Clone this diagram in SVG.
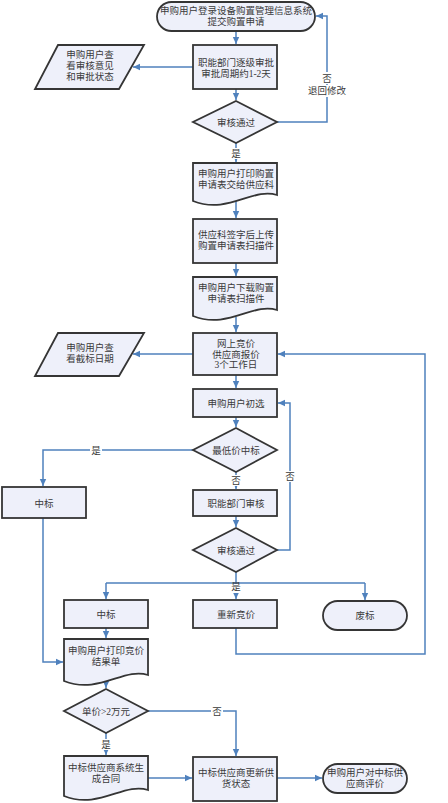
<svg xmlns="http://www.w3.org/2000/svg" width="448" height="803" viewBox="0 0 448 803">
<style>
.n{fill:#eef0fa;stroke:#353535;stroke-width:1.8}
.t{font-family:"Liberation Serif","Noto Sans CJK SC",serif;font-size:9.5px;fill:#3a3a3a;text-anchor:middle}
.c{fill:none;stroke:#4f81bd;stroke-width:1.5}
.a{marker-end:url(#ar)}
.lb{fill:#fff}
</style>
<defs>
<marker id="ar" markerUnits="userSpaceOnUse" markerWidth="8" markerHeight="8" refX="7" refY="4" orient="auto">
<path d="M0,0.8 L7,4 L0,7.2 Z" fill="#4f81bd"/>
</marker>
</defs>
<rect width="448" height="803" fill="#fff"/>
<g id="connectors">
<path class="c a" d="M236,31 V44"/>
<path class="c a" d="M193,67 H133"/>
<path class="c a" d="M236,89 V100"/>
<path class="c a" d="M277,122 H327 V16 H316"/>
<path class="c a" d="M236,143 V162"/>
<path class="c a" d="M236,200 V218"/>
<path class="c a" d="M236,263 V276"/>
<path class="c a" d="M236,317 V332"/>
<path class="c a" d="M193,354 H133"/>
<path class="c a" d="M236,375 V388"/>
<path class="c a" d="M236,417 V427"/>
<path class="c a" d="M193,450 H43 V486"/>
<path class="c a" d="M236,472 V489"/>
<path class="c a" d="M236,516 V527"/>
<path class="c a" d="M277,550 H290 V403 H278"/>
<path class="c" d="M236,572 V583 M106,583 H365"/>
<path class="c a" d="M106,583 V599"/>
<path class="c a" d="M236,583 V599"/>
<path class="c a" d="M365,583 V600"/>
<path class="c a" d="M106,628 V638"/>
<path class="c a" d="M236,628 V654 H425 V354 H278"/>
<path class="c a" d="M43,518 V662 H63"/>
<path class="c a" d="M106,682 V688"/>
<path class="c a" d="M148,711 H236 V756"/>
<path class="c a" d="M106,733 V755"/>
<path class="c a" d="M148,778 H192"/>
<path class="c a" d="M277,778 H322"/>
<rect class="lb" x="320" y="72" width="14" height="12"/>
<rect class="lb" x="307" y="85" width="40" height="12"/>
<text class="t" x="327" y="82">否</text>
<text class="t" x="327" y="93.5">退回修改</text>
<rect class="lb" x="230" y="148" width="12" height="11"/>
<text class="t" x="236" y="157">是</text>
<rect class="lb" x="90" y="445" width="12" height="11"/>
<text class="t" x="96" y="454">是</text>
<rect class="lb" x="230" y="475" width="12" height="11"/>
<text class="t" x="236" y="484">否</text>
<rect class="lb" x="284" y="471" width="12" height="11"/>
<text class="t" x="290" y="480">否</text>
<rect class="lb" x="230" y="584" width="12" height="9"/>
<text class="t" x="236" y="590">是</text>
<rect class="lb" x="211" y="706" width="12" height="11"/>
<text class="t" x="217" y="715">否</text>
<rect class="lb" x="100" y="739" width="12" height="11"/>
<text class="t" x="106" y="748">是</text>
</g>
<g id="start">
<rect class="n" x="157" y="2" width="158" height="29" rx="14.5"/>
<text class="t" x="236" y="14">申购用户登录设备购置管理信息系统</text>
<text class="t" x="236" y="25">提交购置申请</text>
</g>
<g id="approve">
<rect class="n" x="193" y="45" width="84" height="44"/>
<text class="t" x="236" y="66">职能部门逐级审批</text>
<text class="t" x="236" y="77">审批周期约1-2天</text>
</g>
<g id="view1">
<polygon class="n" points="58,45 144,45 119,89 35,89"/>
<text class="t" x="90" y="58">申购用户查</text>
<text class="t" x="90" y="69">看审核意见</text>
<text class="t" x="90" y="80">和审批状态</text>
</g>
<g id="check1">
<polygon class="n" points="236,101 277,122 236,143 193,122"/>
<text class="t" x="236" y="125.5">审核通过</text>
</g>
<g id="print1">
<path class="n" d="M193,163 H277 V195 C253,187 228,215 193,201 Z"/>
<text class="t" x="236" y="177">申购用户打印购置</text>
<text class="t" x="236" y="188">申请表交给供应科</text>
</g>
<g id="upload">
<rect class="n" x="193" y="219" width="84" height="44"/>
<text class="t" x="236" y="237.5">供应科签字后上传</text>
<text class="t" x="236" y="248.5">购置申请表扫描件</text>
</g>
<g id="download">
<path class="n" d="M193,277 H277 V310 C253,302 228,330 193,316 Z"/>
<text class="t" x="236" y="291">申购用户下载购置</text>
<text class="t" x="236" y="302">申请表扫描件</text>
</g>
<g id="bidding">
<rect class="n" x="193" y="333" width="84" height="42"/>
<text class="t" x="236" y="347">网上竞价</text>
<text class="t" x="236" y="357.6">供应商报价</text>
<text class="t" x="236" y="368.2">3个工作日</text>
</g>
<g id="view2">
<polygon class="n" points="58,333 144,333 119,376 35,376"/>
<text class="t" x="90" y="351">申购用户查</text>
<text class="t" x="90" y="362">看截标日期</text>
</g>
<g id="prescreen">
<rect class="n" x="193" y="389" width="84" height="28"/>
<text class="t" x="236" y="406.5">申购用户初选</text>
</g>
<g id="lowest">
<polygon class="n" points="236,428 277,450 236,472 193,450"/>
<text class="t" x="236" y="453.5">最低价中标</text>
</g>
<g id="win1">
<rect class="n" x="2" y="487" width="84" height="31"/>
<text class="t" x="44" y="506.5">中标</text>
</g>
<g id="deptreview">
<rect class="n" x="193" y="490" width="84" height="26"/>
<text class="t" x="236" y="506.5">职能部门审核</text>
</g>
<g id="check2">
<polygon class="n" points="236,528 277,550 236,572 193,550"/>
<text class="t" x="236" y="553.5">审核通过</text>
</g>
<g id="win2">
<rect class="n" x="64" y="600" width="84" height="28"/>
<text class="t" x="106" y="617.5">中标</text>
</g>
<g id="rebid">
<rect class="n" x="193" y="600" width="84" height="28"/>
<text class="t" x="236" y="617.5">重新竞价</text>
</g>
<g id="void">
<rect class="n" x="323" y="601" width="84" height="29" rx="14.5"/>
<text class="t" x="365" y="618.5">废标</text>
</g>
<g id="print2">
<path class="n" d="M64,639 H148 V675 C124,667 99,695 64,681 Z"/>
<text class="t" x="106" y="653.5">申购用户打印竞价</text>
<text class="t" x="106" y="664.5">结果单</text>
</g>
<g id="price">
<polygon class="n" points="106,689 148,711 106,733 64,711"/>
<text class="t" x="106" y="714.5">单价&gt;2万元</text>
</g>
<g id="contract">
<path class="n" d="M64,756 H148 V790 C124,782 99,810 64,796 Z"/>
<text class="t" x="106" y="770.5">中标供应商系统生</text>
<text class="t" x="106" y="781.5">成合同</text>
</g>
<g id="supply">
<rect class="n" x="193" y="757" width="84" height="44"/>
<text class="t" x="236" y="775.5">中标供应商更新供</text>
<text class="t" x="236" y="786.5">货状态</text>
</g>
<g id="evaluate">
<rect class="n" x="323" y="764" width="84" height="29" rx="14.5"/>
<text class="t" x="365" y="775.5">申购用户对中标供</text>
<text class="t" x="365" y="786.5">应商评价</text>
</g>
</svg>
